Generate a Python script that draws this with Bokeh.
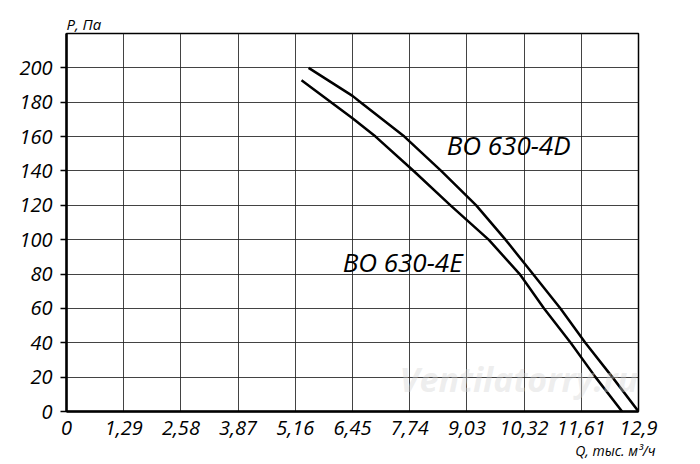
from bokeh.plotting import figure
from bokeh.models import FixedTicker, Label, Range1d, Title
from bokeh.embed import file_html
from bokeh.resources import INLINE

# data
x_ticks = [0, 1.29, 2.58, 3.87, 5.16, 6.45, 7.74, 9.03, 10.32, 11.61, 12.9]
x_tick_labels = ["0", "1,29", "2,58", "3,87", "5,16", "6,45", "7,74", "9,03", "10,32", "11,61", "12,9"]
y_ticks = [0, 20, 40, 60, 80, 100, 120, 140, 160, 180, 200]

q_4d = [5.46, 6.45, 6.63, 7.62, 8.45, 9.24, 9.90, 10.52, 11.14, 11.70, 12.31, 12.9]
p_4d = [200, 183.7, 180, 160, 140, 120, 100, 80, 60, 40, 20, 0]
q_4e = [5.30, 6.45, 6.97, 7.83, 8.66, 9.52, 10.22, 10.77, 11.37, 11.93, 12.53]
p_4e = [192.8, 170.7, 160, 140, 120, 100, 80, 60, 40, 20, 0]

label_4d = "BO 630-4D"
label_4e = "BO 630-4E"
y_title = "P, Па"
x_title = "Q, тыс. м³/ч"
watermark = "Ventilatorry.ru"

FONT = "Open Sans"

p = figure(width=684, height=460, output_backend="svg", toolbar_location=None,
           x_range=Range1d(0, 12.9), y_range=Range1d(0, 220),
           min_border_left=66, min_border_right=46, min_border_top=33, min_border_bottom=45)

p.outline_line_color = "black"
p.outline_line_width = 1.5

p.xaxis.axis_line_width = 2.5
p.yaxis.axis_line_width = 2.5
p.xaxis.axis_line_color = "black"
p.yaxis.axis_line_color = "black"
p.xaxis.minor_tick_line_color = None
p.yaxis.minor_tick_line_color = None
p.xaxis.major_label_text_font = FONT
p.yaxis.major_label_text_font = FONT
p.xaxis.major_label_text_font_style = "italic"
p.yaxis.major_label_text_font_style = "italic"
p.xaxis.major_label_text_font_size = "20px"
p.yaxis.major_label_text_font_size = "20px"
p.xaxis.major_label_text_color = "black"
p.yaxis.major_label_text_color = "black"

p.xaxis.ticker = FixedTicker(ticks=x_ticks)
p.xaxis.major_label_overrides = {t: l for t, l in zip(x_ticks, x_tick_labels)}
p.xaxis.major_tick_line_color = None
p.xaxis.major_label_standoff = 3

p.yaxis.ticker = FixedTicker(ticks=y_ticks)
p.yaxis.major_tick_out = 6
p.yaxis.major_tick_in = 0
p.yaxis.major_tick_line_width = 1.5
p.yaxis.major_tick_line_color = "black"
p.yaxis.major_label_standoff = 8

p.xgrid.grid_line_color = "#222222"
p.ygrid.grid_line_color = "#222222"
p.xgrid.grid_line_width = 1
p.ygrid.grid_line_width = 1
p.xgrid.grid_line_alpha = 0.85
p.ygrid.grid_line_alpha = 0.85

p.add_layout(Label(x=10.2, y=19, text=watermark, text_font=FONT, text_font_style="bold italic",
                   text_font_size="34px", text_color="#d4d4d4", text_alpha=0.4,
                   text_align="center", text_baseline="middle"))

p.line(q_4d, p_4d, line_color="black", line_width=2.5, line_join="round")
p.line(q_4e, p_4e, line_color="black", line_width=2.5, line_join="round")

p.add_layout(Label(x=9.97, y=155, text=label_4d, text_font=FONT, text_font_style="italic",
                   text_font_size="26px", text_color="black", text_align="center", text_baseline="middle"))
p.add_layout(Label(x=7.58, y=87, text=label_4e, text_font=FONT, text_font_style="italic",
                   text_font_size="26px", text_color="black", text_align="center", text_baseline="middle"))

p.add_layout(Title(text=y_title, align="left", text_font=FONT, text_font_style="italic",
                   text_font_size="15px", text_color="black", standoff=0), "above")
p.add_layout(Title(text=x_title, align="right", offset=-17, text_font=FONT, text_font_style="italic",
                   text_font_size="14px", text_color="black", standoff=2), "below")

open("out.html", "w").write(file_html(p, INLINE))
